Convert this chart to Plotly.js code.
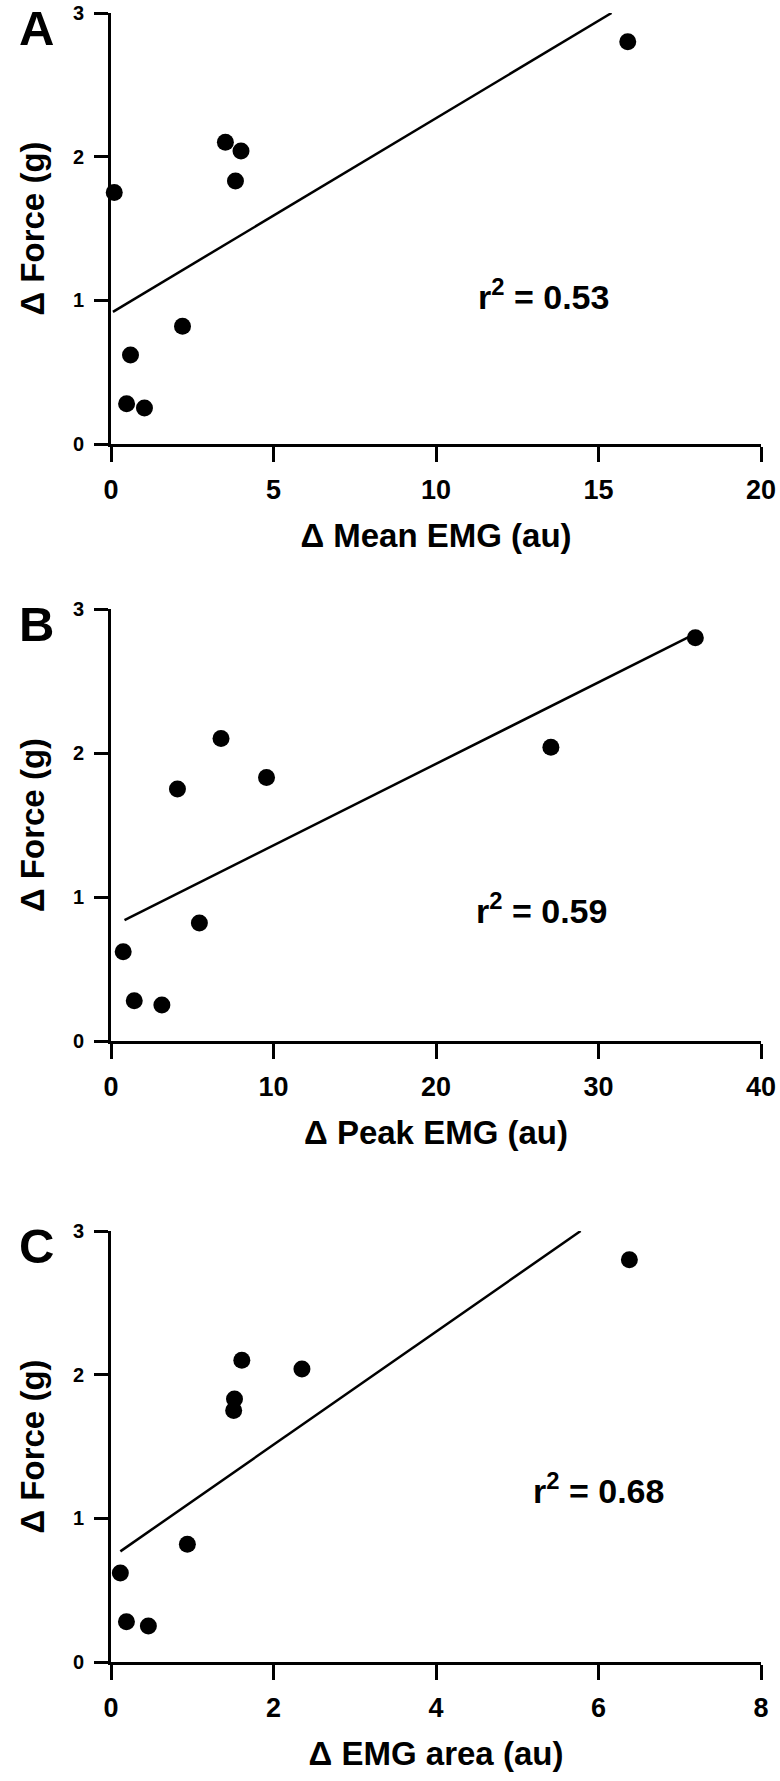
<!DOCTYPE html>
<html>
<head>
<meta charset="utf-8">
<script src="https://cdn.plot.ly/plotly-3.0.1.min.js"></script>
<style>html,body{margin:0;padding:0;background:#fff;}#chart{width:780px;height:1781px;}</style>
</head>
<body>
<div id="chart"></div>
<script>
// Shared force values (g) for the nine subjects
const forceG = [1.75, 2.10, 2.04, 1.83, 0.82, 0.62, 0.28, 0.25, 2.80];
// Panel A: delta mean EMG (au)
const meanEMG = [0.10, 3.52, 4.00, 3.83, 2.20, 0.60, 0.48, 1.03, 15.9];
// Panel B: delta peak EMG (au)
const peakEMG = [4.09, 6.77, 27.07, 9.57, 5.44, 0.75, 1.43, 3.13, 35.96];
// Panel C: delta EMG area (au)
const areaEMG = [1.51, 1.61, 2.35, 1.52, 0.94, 0.115, 0.19, 0.46, 6.38];
// Regression line end points
const fitA_x = [0.06, 15.4], fitA_y = [0.92, 3.00];
const fitB_x = [0.83, 36.0], fitB_y = [0.84, 2.83];
const fitC_x = [0.115, 5.78], fitC_y = [0.77, 3.00];
// Tick labels
const yTicks = [0, 1, 2, 3];
const xTicksA = [0, 5, 10, 15, 20];
const xTicksB = [0, 10, 20, 30, 40];
const xTicksC = [0, 2, 4, 6, 8];
const xTitles = ['\u0394 Mean EMG (au)', '\u0394 Peak EMG (au)', '\u0394 EMG area (au)'];
const yTitle = '\u0394 Force (g)';
const r2Text = ['r<sup>2</sup> = 0.53', 'r<sup>2</sup> = 0.59', 'r<sup>2</sup> = 0.68'];
const r2Pos = [[13.3, 1.04], [26.5, 0.92], [6.0, 1.21]];
const letters = ['A', 'B', 'C'];

const W = 780, H = 1781;
const font = 'Liberation Sans, Arial, sans-serif';
// pixel boxes of plot areas [top, bottom]
const boxes = [[13, 444], [609, 1041], [1231, 1662]];
const xDom = [111 / W, 761 / W];

function xAx(ticks, title, anchor) {
  return {
    domain: xDom, range: [ticks[0], ticks[ticks.length - 1]], tickvals: ticks,
    ticktext: ticks.map(t => '<b>' + t + '</b>'),
    showline: true, linewidth: 3, linecolor: '#000', mirror: false,
    ticks: 'outside', ticklen: 15, tickwidth: 3, tickcolor: '#000', ticklabelstandoff: 5,
    showgrid: false, zeroline: false, anchor: anchor, automargin: false,
    tickfont: {family: font, size: 27, color: '#000'},
    title: {text: '<b>' + title + '</b>', font: {family: font, size: 33, color: '#000'}, standoff: 20}
  };
}
function yAx(box, anchor) {
  return {
    domain: [1 - box[1] / H, 1 - box[0] / H], range: [0, 3], tickvals: yTicks,
    ticktext: yTicks.map(t => '<b>' + t + '</b>'),
    showline: true, linewidth: 3, linecolor: '#000',
    ticks: 'outside', ticklen: 14, tickwidth: 3, tickcolor: '#000', ticklabelstandoff: 6,
    showgrid: false, zeroline: false, anchor: anchor, automargin: false,
    tickfont: {family: font, size: 20, color: '#000'},
    title: {text: '<b>' + yTitle + '</b>', font: {family: font, size: 33, color: '#000'}, standoff: 19}
  };
}

const xs = [meanEMG, peakEMG, areaEMG];
const fits = [[fitA_x, fitA_y], [fitB_x, fitB_y], [fitC_x, fitC_y]];
const data = [];
const ann = [];
for (let i = 0; i < 3; i++) {
  const xa = i === 0 ? 'x' : 'x' + (i + 1);
  const ya = i === 0 ? 'y' : 'y' + (i + 1);
  data.push({x: fits[i][0], y: fits[i][1], xaxis: xa, yaxis: ya, mode: 'lines',
             line: {color: '#000', width: 2.5}, cliponaxis: false, hoverinfo: 'skip'});
  data.push({x: xs[i], y: forceG, xaxis: xa, yaxis: ya, mode: 'markers',
             marker: {color: '#000', size: 17, line: {width: 0}}, cliponaxis: false});
  ann.push({xref: xa, yref: ya, x: r2Pos[i][0], y: r2Pos[i][1], showarrow: false,
            text: '<b>' + r2Text[i] + '</b>', font: {family: font, size: 34, color: '#000'},
            xanchor: 'center', yanchor: 'middle'});
  ann.push({xref: 'paper', yref: 'paper', x: 17 / W, y: 1 - (boxes[i][0] - 14) / H, showarrow: false,
            text: '<b>' + letters[i] + '</b>', font: {family: font, size: 49, color: '#000'},
            xanchor: 'left', yanchor: 'top'});
}

const layout = {
  width: W, height: H, margin: {l: 0, r: 0, t: 0, b: 0},
  paper_bgcolor: '#fff', plot_bgcolor: '#fff', showlegend: false,
  xaxis: xAx(xTicksA, xTitles[0], 'y'),
  xaxis2: xAx(xTicksB, xTitles[1], 'y2'),
  xaxis3: xAx(xTicksC, xTitles[2], 'y3'),
  yaxis: yAx(boxes[0], 'x'),
  yaxis2: yAx(boxes[1], 'x2'),
  yaxis3: yAx(boxes[2], 'x3'),
  annotations: ann
};
Plotly.newPlot('chart', data, layout, {displayModeBar: false, staticPlot: true});
</script>
</body>
</html>
